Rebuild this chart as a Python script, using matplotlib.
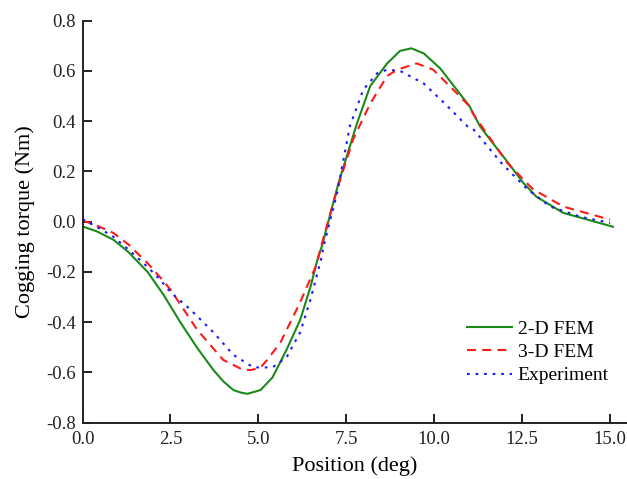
import matplotlib
matplotlib.use("Agg")
import matplotlib.pyplot as plt

plt.rcParams['font.family'] = ['Liberation Serif', 'DejaVu Serif']

# 2-D FEM
x_2d = [0.0, 0.4, 0.88, 1.3, 1.85, 2.3, 2.78, 3.25, 3.72, 4.0, 4.29, 4.5, 4.69, 5.06, 5.4,
        5.8, 6.19, 6.48, 6.7, 6.8, 7.28, 7.8, 8.18, 8.66, 9.03, 9.35, 9.7, 10.17, 11.0,
        11.3, 11.68, 11.96, 12.53, 12.9, 13.67, 15.08]
y_2d = [-0.019, -0.038, -0.072, -0.12, -0.20, -0.29, -0.40, -0.50, -0.59, -0.635, -0.67,
        -0.68, -0.685, -0.67, -0.62, -0.51, -0.39, -0.26, -0.14, -0.10, 0.155, 0.39, 0.54,
        0.63, 0.68, 0.69, 0.67, 0.61, 0.46, 0.38, 0.31, 0.26, 0.155, 0.10, 0.035, -0.02]

# 3-D FEM
x_3d = [0.0, 0.4, 0.88, 1.3, 1.85, 2.2, 2.5, 3.26, 4.0, 4.57, 4.8, 5.06, 5.25, 5.63, 6.19,
        6.67, 6.76, 7.24, 7.7, 8.18, 8.66, 8.95, 9.5, 9.97, 10.65, 11.0, 11.1, 12.07, 12.8,
        13.67, 15.0]
y_3d = [0.005, -0.015, -0.045, -0.09, -0.165, -0.22, -0.27, -0.43, -0.55, -0.59, -0.59,
        -0.58, -0.55, -0.48, -0.32, -0.165, -0.11, 0.13, 0.33, 0.47, 0.58, 0.605, 0.63,
        0.605, 0.51, 0.46, 0.43, 0.235, 0.13, 0.06, 0.008]

# Experiment
x_ex = [0.0, 0.4, 0.88, 1.3, 1.85, 2.2, 2.5, 3.07, 3.72, 4.29, 4.86, 5.4, 5.8, 6.19, 6.48,
        6.8, 6.85, 7.24, 7.6, 7.98, 8.37, 8.66, 9.03, 9.7, 10.3, 10.94, 11.1, 11.9, 12.64,
        13.3, 14.15, 15.0]
y_ex = [0.01, -0.02, -0.06, -0.11, -0.18, -0.23, -0.28, -0.35, -0.44, -0.53, -0.58, -0.58,
        -0.54, -0.44, -0.31, -0.14, -0.10, 0.115, 0.38, 0.525, 0.59, 0.605, 0.60, 0.55,
        0.47, 0.38, 0.37, 0.235, 0.13, 0.06, 0.02, -0.005]

labels = ["2-D FEM", "3-D FEM", "Experiment"]
x_ticks = [0.0, 2.5, 5.0, 7.5, 10.0, 12.5, 15.0]
y_ticks = [-0.8, -0.6, -0.4, -0.2, 0.0, 0.2, 0.4, 0.6, 0.8]

fig = plt.figure(figsize=(6.27, 4.79), dpi=100)
ax = fig.add_axes([0.1316, 0.1175, 0.8684, 0.8393])

ax.plot(x_2d, y_2d, color='#1a8a1a', lw=1.5, label=labels[0])
ax.plot(x_3d, y_3d, color='#ff1a1a', lw=1.5, ls=(0, (4.3, 3)), label=labels[1])
ax.plot(x_ex, y_ex, color='#1a1aff', lw=1.5, ls=(0, (1.3, 2.8)), label=labels[2])

ax.set_xlim(0, 15.48)
ax.set_ylim(-0.8, 0.8)
ax.set_xticks(x_ticks)
ax.set_xticklabels([f"{v:.1f}" for v in x_ticks])
ax.set_yticks(y_ticks)
ax.set_yticklabels([f"{v:.1f}" for v in y_ticks])

for s in ['top', 'right']:
    ax.spines[s].set_visible(False)
for s in ['left', 'bottom']:
    ax.spines[s].set_linewidth(1.4)
    ax.spines[s].set_color('#222222')

ax.tick_params(direction='in', length=6.5, width=1.4, labelsize=13.5, pad=6, colors='#222222')
ax.tick_params(axis='y', pad=5)

ax.set_xlabel("Position (deg)", fontsize=16, labelpad=6)
ax.set_ylabel("Cogging torque (Nm)", fontsize=16, labelpad=8)

leg = ax.legend(loc='upper left', bbox_to_anchor=(467 / 627, 1 - 320 / 479),
                bbox_transform=fig.transFigure, frameon=False, fontsize=14,
                handlelength=2.3, handletextpad=0.3, labelspacing=0.3,
                borderaxespad=0, borderpad=0)

fig.savefig("out.png", dpi=100)
